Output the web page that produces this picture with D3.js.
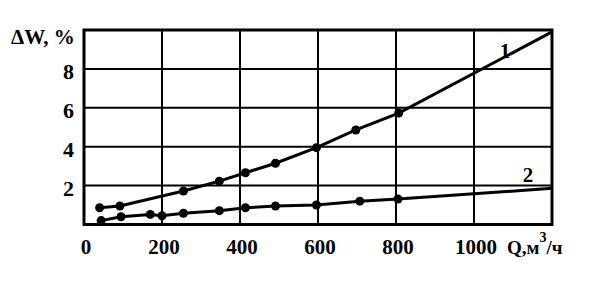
<!DOCTYPE html>
<html>
<head>
<meta charset="utf-8">
<script src="https://cdn.jsdelivr.net/npm/d3@7"></script>
<style>
body{margin:0;background:#fff;}
</style>
</head>
<body>
<svg width="595" height="287"></svg>
<script>
// curve 1 and curve 2, Q in m3/h, dW in %
var q1 = [40, 92, 255, 347, 414, 491, 596, 697, 807, 1200];
var w1 = [0.86, 0.95, 1.72, 2.23, 2.66, 3.15, 3.95, 4.86, 5.73, 9.9];
var q2 = [44, 95, 170, 200, 255, 347, 414, 491, 596, 707, 805, 1200];
var w2 = [0.2, 0.4, 0.52, 0.45, 0.58, 0.71, 0.86, 0.95, 1.0, 1.2, 1.31, 1.86];
var xTicks = [0, 200, 400, 600, 800, 1000];
var yTicks = [2, 4, 6, 8];
var curveNames = ["1", "2"];

var font = "'Liberation Serif', 'DejaVu Serif', 'Times New Roman', serif";
var svg = d3.select("svg")
    .attr("font-family", font).attr("font-weight", "bold");
var x = d3.scaleLinear().domain([0, 1200]).range([84, 552]);
var y = d3.scaleLinear().domain([0, 10]).range([224.5, 30]);

// grid
svg.selectAll(".vg").data(xTicks.slice(1)).enter().append("line")
    .attr("x1", d => x(d)).attr("x2", d => x(d))
    .attr("y1", y(10)).attr("y2", y(0))
    .attr("stroke", "#000").attr("stroke-width", 2);
svg.selectAll(".hg").data(yTicks).enter().append("line")
    .attr("x1", x(0)).attr("x2", x(1200))
    .attr("y1", d => y(d)).attr("y2", d => y(d))
    .attr("stroke", "#000").attr("stroke-width", 2);
svg.append("rect")
    .attr("x", x(0)).attr("y", y(10))
    .attr("width", x(1200) - x(0)).attr("height", y(0) - y(10))
    .attr("fill", "none").attr("stroke", "#000").attr("stroke-width", 3);

// tick labels
svg.selectAll(".xt").data(xTicks).enter().append("text")
    .attr("x", d => x(d) + 2).attr("y", 254)
    .attr("text-anchor", "middle").attr("font-size", 21)
    .text(d => d);
svg.selectAll(".yt").data(yTicks).enter().append("text")
    .attr("x", 74).attr("y", d => y(d) + 10)
    .attr("text-anchor", "end").attr("font-size", 22)
    .text(d => d);

svg.append("text").attr("x", 11).attr("y", 44).attr("font-size", 21)
    .text("\u0394W, %");
var ql = svg.append("text").attr("x", 507).attr("y", 254).attr("font-size", 19);
ql.append("tspan").text("Q,м");
ql.append("tspan").attr("dy", -12).attr("font-size", 14).text("3");
ql.append("tspan").attr("dy", 12).text("/ч");

// curves
var series = [[q1, w1], [q2, w2]];
var line = d3.line().x(d => x(d[0])).y(d => y(d[1]));
series.forEach(function(s){
    var pts = s[0].map((q, i) => [q, s[1][i]]);
    svg.append("path").datum(pts)
        .attr("d", line).attr("fill", "none")
        .attr("stroke", "#000").attr("stroke-width", 3);
    svg.selectAll(null).data(pts.slice(0, -1)).enter().append("circle")
        .attr("cx", d => x(d[0])).attr("cy", d => y(d[1]))
        .attr("r", 4.5).attr("fill", "#000");
});

// curve numbers
svg.append("text").attr("x", 505).attr("y", 58).attr("text-anchor", "middle")
    .attr("font-size", 21).text(curveNames[0]);
svg.append("text").attr("x", 528).attr("y", 182).attr("text-anchor", "middle")
    .attr("font-size", 21).text(curveNames[1]);
</script>
</body>
</html>
